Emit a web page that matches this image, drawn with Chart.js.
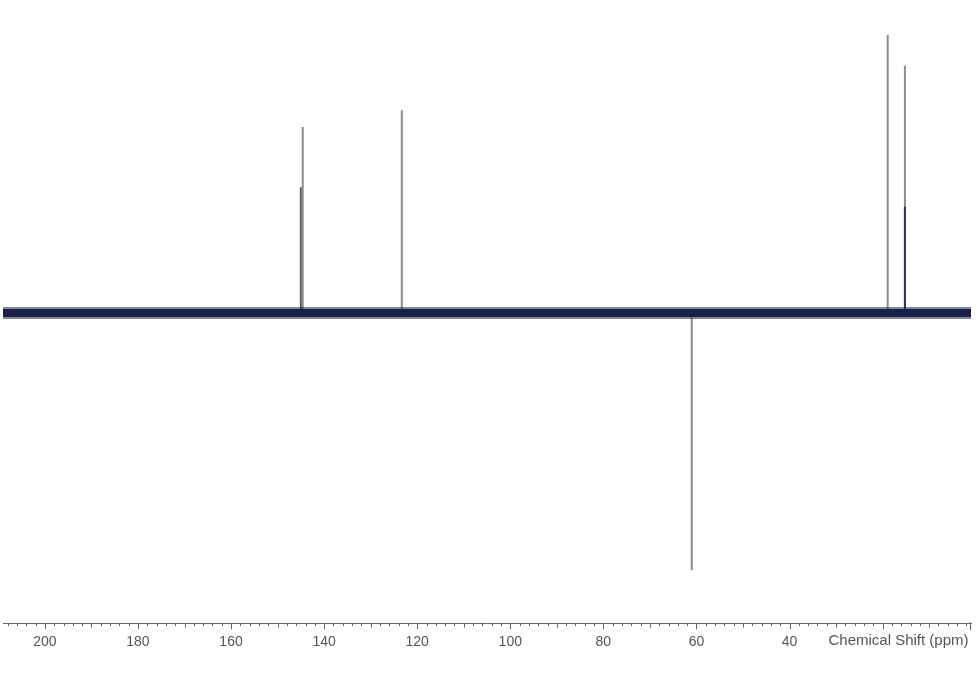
<!DOCTYPE html>
<html lang="en">

<head>
    <meta charset="UTF-8">
    <title>Chemical Shift</title>
    <style>
        body { margin: 0; background: #fff; }
    </style>
</head>

<body>
    <div style="width: 980px; height: 683px;">
        <canvas id="myChart"></canvas>
    </div>

    <script src="https://cdn.jsdelivr.net/npm/chart.js"></script>

    <script>
        // peak positions (ppm) and heights (arbitrary units, baseline = 0)
        let v_peakShift = [144.6, 145.0, 123.3, 61.0, 18.9, 15.2];
        let v_peakHeight = [60.0, 40.6, 65.4, -82.9, 89.7, 79.8];
        // darker overlapping part of the 15.2 peak
        let v_innerShift = [15.2];
        let v_innerHeight = [34.3];
        // axis range and labelled ticks
        let v_axisRange = [1, 209];
        let v_tickLabels = [200, 180, 160, 140, 120, 100, 80, 60, 40];

        let v_datasets = [];

        // baseline (noise band): dark core + soft fringe
        v_datasets.push({
            data: [{ x: v_axisRange[0], y: 0 }, { x: v_axisRange[1], y: 0 }],
            borderColor: '#18204a',
            borderWidth: 8,
            pointRadius: 0
        });
        v_datasets.push({
            data: [{ x: v_axisRange[0], y: 0 }, { x: v_axisRange[1], y: 0 }],
            borderColor: 'rgba(28, 36, 80, 0.55)',
            borderWidth: 12,
            pointRadius: 0
        });

        for (let i = 0; i < v_innerShift.length; i++) {
            v_datasets.push({
                data: [{ x: v_innerShift[i], y: 0 }, { x: v_innerShift[i], y: v_innerHeight[i] }],
                borderColor: '#2b3160',
                borderWidth: 2,
                pointRadius: 0
            });
        }

        for (let i = 0; i < v_peakShift.length; i++) {
            v_datasets.push({
                data: [{ x: v_peakShift[i], y: 0 }, { x: v_peakShift[i], y: v_peakHeight[i] }],
                borderColor: i == 1 ? '#5a5a5a' : '#8c8c8c',
                borderWidth: 2,
                pointRadius: 0
            });
        }

        // tick marks + axis title
        const axisPlugin = {
            id: 'axisTicks',
            afterDraw(chart) {
                const c = chart.ctx;
                const xs = chart.scales.x;
                const y0 = chart.chartArea.bottom;
                c.save();
                c.strokeStyle = '#666';
                c.lineWidth = 1;
                c.beginPath();
                for (let v = 2; v <= 208; v += 2) {
                    let len = 3;
                    if (v % 20 == 0) len = 6;
                    else if (v % 10 == 0) len = 4.5;
                    let px = Math.round(xs.getPixelForValue(v)) + 0.5;
                    c.moveTo(px, y0);
                    c.lineTo(px, y0 + len);
                }
                let pe = Math.round(xs.getPixelForValue(v_axisRange[0])) - 0.5;
                c.moveTo(pe, y0 - 1);
                c.lineTo(pe, y0 + 7);
                c.stroke();

                c.fillStyle = '#555';
                c.font = '15px "Liberation Sans", Arial, sans-serif';
                c.textAlign = 'right';
                c.textBaseline = 'middle';
                c.fillText('Chemical Shift (ppm)', pe - 2, y0 + 18);
                c.restore();
            }
        };

        const ctx = document.getElementById("myChart");

        let v_chart = new Chart(ctx, {
            type: 'line',
            data: { datasets: v_datasets },
            options: {
                responsive: true,
                maintainAspectRatio: false,
                animation: false,
                layout: {
                    padding: { left: 3, right: 9, top: 3, bottom: 29 }
                },
                plugins: {
                    legend: { display: false },
                    tooltip: { enabled: false }
                },
                scales: {
                    x: {
                        type: 'linear',
                        reverse: true,
                        min: v_axisRange[0],
                        max: v_axisRange[1],
                        grid: { display: false },
                        border: { display: true, color: '#666', width: 1 },
                        afterBuildTicks: (axis) => {
                            axis.ticks = v_tickLabels.map(v => ({ value: v }));
                        },
                        ticks: {
                            autoSkip: false,
                            maxRotation: 0,
                            padding: 3,
                            color: '#555',
                            font: { family: '"Liberation Sans", Arial, sans-serif', size: 14 }
                        }
                    },
                    y: {
                        display: false,
                        min: -100,
                        max: 100
                    }
                }
            },
            plugins: [axisPlugin]
        });
    </script>
</body>

</html>
